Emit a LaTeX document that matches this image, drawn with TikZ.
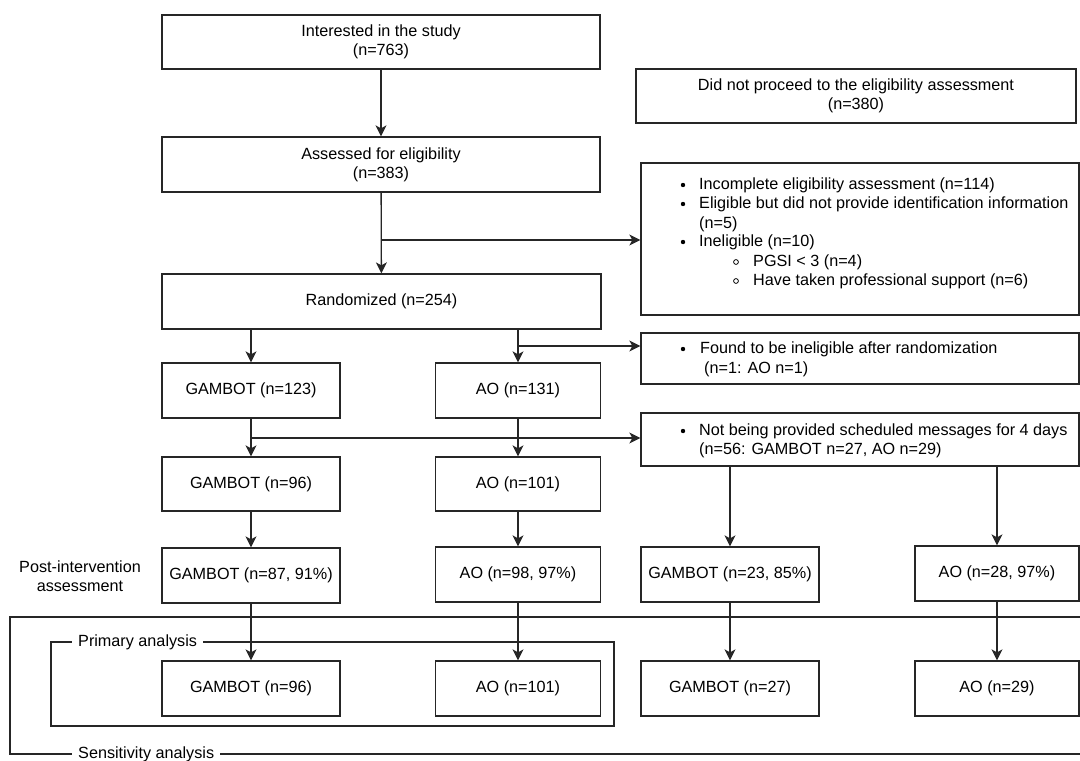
\documentclass[tikz,border=0pt]{standalone}
\usepackage{fontspec}
\setmainfont{Liberation Sans}
\usetikzlibrary{arrows.meta}
\begin{document}
\begin{tikzpicture}[x=1pt,y=-1pt,
  every node/.style={font=\fontsize{16.2}{19}\selectfont},
  box/.style={draw=black!85, line width=1.3pt, rectangle, inner sep=0pt, align=center},
  arr/.style={draw=black!85, -{Stealth[length=11pt,width=11pt,inset=3pt]}, line width=1.3pt},
  ln/.style={draw=black!85, line width=1.3pt},
  txt/.style={anchor=base west, inner sep=0pt},
  grp/.style={fill=white, inner xsep=6pt, inner ysep=0pt, anchor=west}]
\useasboundingbox (0,0) rectangle (1080,761);

% group frames
\draw[ln] (1080,617) -- (10,617) -- (10,754) -- (1080,754);
\draw[ln] (51,642) rectangle (614,726);
\node[grp] (prim) at (72,642) {Primary analysis};
\node[grp] (sens) at (72,754) {Sensitivity analysis};

% boxes
\node[box, minimum width=438pt, minimum height=54pt] (int) at (381,42) {Interested in the study\\(n=763)};
\node[box, minimum width=440pt, minimum height=54pt] (dnp) at (856,96) {Did not proceed to the eligibility assessment\\(n=380)};
\node[box, minimum width=438pt, minimum height=55pt] (ass) at (381,164.5) {Assessed for eligibility\\(n=383)};
\node[box, minimum width=438pt, minimum height=152pt] (lst) at (860,239) {};
\node[box, minimum width=439pt, minimum height=55pt] (ran) at (381.5,301.5) {Randomized (n=254)};
\node[box, minimum width=178pt, minimum height=55pt] (g1) at (251,390.5) {GAMBOT (n=123)};
\node[box, minimum width=165pt, minimum height=55pt] (a1) at (518,390.5) {AO (n=131)};
\node[box, minimum width=438pt, minimum height=51pt] (fnd) at (860,358.5) {};
\node[box, minimum width=438pt, minimum height=53pt] (npr) at (860,439.5) {};
\node[box, minimum width=178pt, minimum height=54pt] (g2) at (251,484) {GAMBOT (n=96)};
\node[box, minimum width=165pt, minimum height=54pt] (a2) at (518,484) {AO (n=101)};
\node[box, minimum width=178pt, minimum height=55pt] (g3) at (251,575.5) {GAMBOT (n=87, 91\%)};
\node[box, minimum width=165pt, minimum height=55pt] (a3) at (518,574.5) {AO (n=98, 97\%)};
\node[box, minimum width=178pt, minimum height=55pt] (g4) at (730,574.5) {GAMBOT (n=23, 85\%)};
\node[box, minimum width=164pt, minimum height=55pt] (a4) at (997,573.5) {AO (n=28, 97\%)};
\node[box, minimum width=178pt, minimum height=55pt] (g5) at (251,688.5) {GAMBOT (n=96)};
\node[box, minimum width=165pt, minimum height=55pt] (a5) at (518,688.5) {AO (n=101)};
\node[box, minimum width=178pt, minimum height=55pt] (g6) at (730,688.5) {GAMBOT (n=27)};
\node[box, minimum width=164pt, minimum height=55pt] (a6) at (997,688.5) {AO (n=29)};

\node[align=center, inner sep=0pt] (post) at (80,576.5) {Post-intervention\\assessment};

% list box text
\fill[black] (683,185) circle (2.2);
\fill[black] (683,204) circle (2.2);
\fill[black] (683,242) circle (2.2);
\draw[black, line width=0.8pt] (736,262) circle (2.4);
\draw[black, line width=0.8pt] (736,281) circle (2.4);
\node[txt] (l1) at (699,189.5) {Incomplete eligibility assessment (n=114)};
\node[txt] (l2) at (699,208.5) {Eligible but did not provide identification information};
\node[txt] (l3) at (699,228) {(n=5)};
\node[txt] (l4) at (699,246.5) {Ineligible (n=10)};
\node[txt] (l5) at (753,266.5) {PGSI < 3 (n=4)};
\node[txt] (l6) at (753,285.5) {Have taken professional support (n=6)};

% found box text
\fill[black] (683,349) circle (2.2);
\node[txt] (f1) at (700,353.5) {Found to be ineligible after randomization};
\node[txt] (f2) at (704,373.5) {(n=1: AO n=1)};

% not provided box text
\fill[black] (683,431) circle (2.2);
\node[txt] (n1) at (699,435.5) {Not being provided scheduled messages for 4 days};
\node[txt] (n2) at (699,454.5) {(n=56: GAMBOT n=27, AO n=29)};

% connectors
\draw[arr] (int) -- (ass);
\draw[arr] (ass) -- (ran);
\coordinate (b1) at (381,240);
\draw[arr] (b1) -- (b1 -| lst.west);
\draw[arr] (ran.south -| g1.north) -- (g1.north);
\draw[arr] (ran.south -| a1.north) -- (a1.north);
\coordinate (b2) at (518,346);
\draw[arr] (b2) -- (b2 -| fnd.west);
\draw[arr] (g1) -- (g2);
\draw[arr] (a1) -- (a2);
\coordinate (b3) at (251,438);
\draw[arr] (b3) -- (b3 -| npr.west);
\draw[arr] (npr.south -| g4.north) -- (g4.north);
\draw[arr] (npr.south -| a4.north) -- (a4.north);
\draw[arr] (g2) -- (g3);
\draw[arr] (a2) -- (a3);
\draw[arr] (g3) -- (g5);
\draw[arr] (a3.south) -- (a5.north);
\draw[arr] (g4) -- (g6);
\draw[arr] (a4.south) -- (a6.north);
\end{tikzpicture}
\end{document}
